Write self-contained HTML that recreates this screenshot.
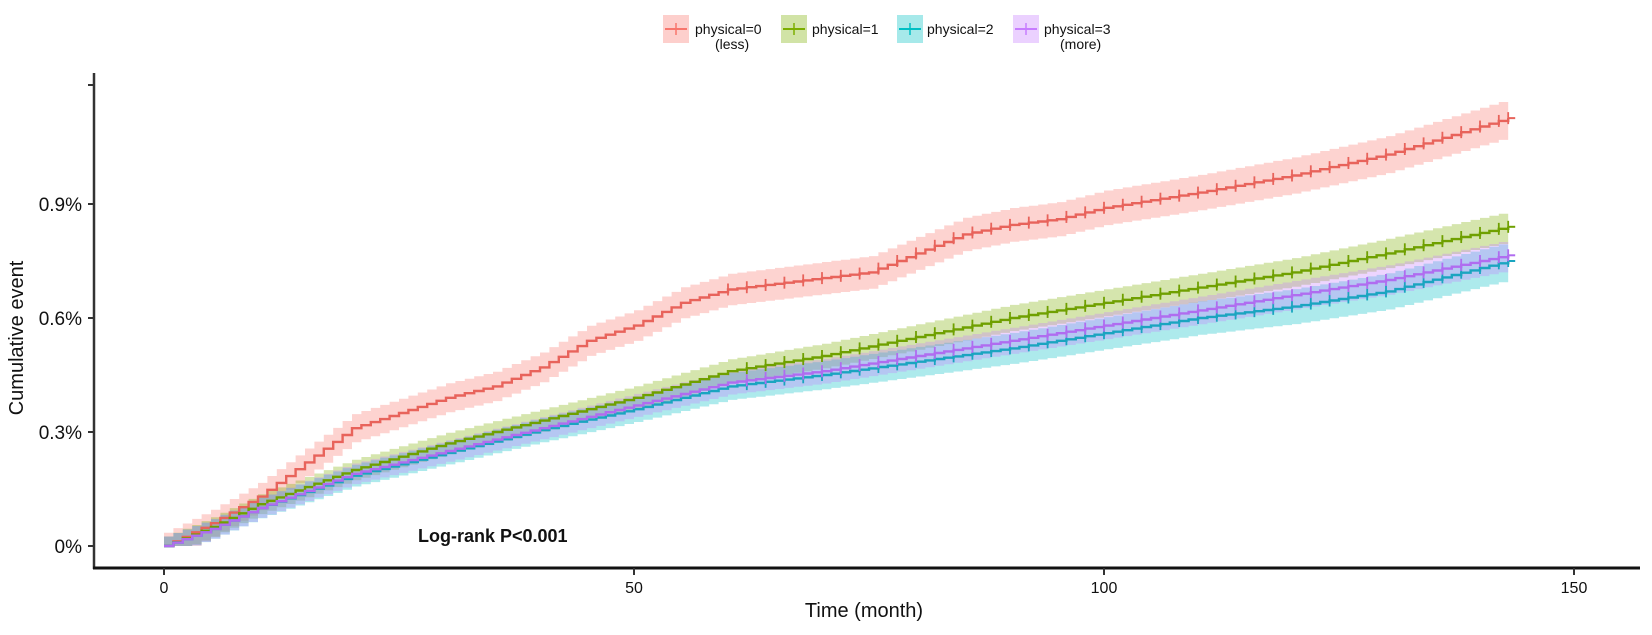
<!DOCTYPE html>
<html><head><meta charset="utf-8"><style>
html,body{margin:0;padding:0;background:#fff;width:1652px;height:635px;overflow:hidden}
svg{display:block;font-family:"Liberation Sans",Arial,sans-serif}
</style></head><body>
<svg id="s" width="1652" height="635" viewBox="0 0 1652 635" xmlns="http://www.w3.org/2000/svg">
<g id="bands"></g><g id="lines"></g>
<line x1="94" y1="73" x2="94" y2="569" stroke="#333" stroke-width="2.5"/>
<line x1="93" y1="568" x2="1640" y2="568" stroke="#111" stroke-width="3"/>
<g stroke="#333" stroke-width="2">
<line x1="88" y1="546" x2="94" y2="546"/><line x1="88" y1="432" x2="94" y2="432"/>
<line x1="88" y1="318" x2="94" y2="318"/><line x1="88" y1="204" x2="94" y2="204"/>
<line x1="88" y1="85" x2="94" y2="85"/>
<line x1="164" y1="568" x2="164" y2="575"/><line x1="634" y1="568" x2="634" y2="575"/>
<line x1="1104" y1="568" x2="1104" y2="575"/><line x1="1574" y1="568" x2="1574" y2="575"/>
</g>
<g font-size="19" fill="#111" text-anchor="end">
<text x="82" y="553">0%</text><text x="82" y="439">0.3%</text><text x="82" y="325">0.6%</text><text x="82" y="211">0.9%</text>
</g>
<g font-size="16" fill="#111" text-anchor="middle">
<text x="164" y="593">0</text><text x="634" y="593">50</text><text x="1104" y="593">100</text><text x="1574" y="593">150</text>
</g>
<text x="864" y="617" font-size="20" text-anchor="middle" fill="#111">Time (month)</text>
<text transform="translate(23,338) rotate(-90)" font-size="20" text-anchor="middle" fill="#111">Cumulative event</text>
<text x="418" y="542" font-size="18" font-weight="bold" fill="#111">Log-rank P&lt;0.001</text>
<g font-size="14" fill="#111">
<rect x="663" y="15" width="26" height="28" fill="#F8766D" opacity="0.35"/><line x1="665" y1="29" x2="687" y2="29" stroke="#F8766D" stroke-width="2"/><line x1="676" y1="23" x2="676" y2="35" stroke="#F8766D" stroke-width="1.5"/>
<text x="695" y="34">physical=0</text><text x="715" y="49">(less)</text>
<rect x="781" y="15" width="26" height="28" fill="#7CAE00" opacity="0.35"/><line x1="783" y1="29" x2="805" y2="29" stroke="#7CAE00" stroke-width="2"/><line x1="794" y1="23" x2="794" y2="35" stroke="#7CAE00" stroke-width="1.5"/>
<text x="812" y="34">physical=1</text>
<rect x="897" y="15" width="26" height="28" fill="#00BFC4" opacity="0.35"/><line x1="899" y1="29" x2="921" y2="29" stroke="#00BFC4" stroke-width="2"/><line x1="910" y1="23" x2="910" y2="35" stroke="#00BFC4" stroke-width="1.5"/>
<text x="927" y="34">physical=2</text>
<rect x="1013" y="15" width="26" height="28" fill="#C77CFF" opacity="0.35"/><line x1="1015" y1="29" x2="1037" y2="29" stroke="#C77CFF" stroke-width="2"/><line x1="1026" y1="23" x2="1026" y2="35" stroke="#C77CFF" stroke-width="1.5"/>
<text x="1044" y="34">physical=3</text><text x="1060" y="49">(more)</text>
</g>
</svg>
<script>
var X=function(m){return 164+m*9.4},Y=function(p){return 546-p*380};
var S=[
{c:"#F8766D",l:"#E8635B",w:0.035,we:0.05,cs:60,d:[[0,0],[5,0.06],[10,0.13],[15,0.22],[20,0.31],[25,0.35],[30,0.39],[35,0.42],[40,0.47],[45,0.54],[50,0.58],[55,0.64],[60,0.675],[65,0.69],[70,0.705],[75,0.72],[80,0.77],[85,0.82],[90,0.845],[95,0.86],[100,0.89],[110,0.93],[120,0.975],[130,1.03],[143,1.126]]},
{c:"#7CAE00",l:"#6FA000",w:0.025,we:0.04,cs:62,d:[[0,0],[5,0.05],[10,0.11],[20,0.20],[30,0.27],[40,0.33],[50,0.39],[60,0.46],[70,0.50],[80,0.55],[90,0.60],[100,0.64],[110,0.68],[120,0.72],[130,0.77],[143,0.84]]},
{c:"#00BFC4",l:"#1AA5C0",w:0.025,we:0.05,cs:62,d:[[0,0],[5,0.045],[10,0.10],[20,0.185],[30,0.245],[40,0.305],[50,0.36],[60,0.42],[70,0.45],[80,0.485],[90,0.52],[100,0.56],[110,0.60],[120,0.63],[130,0.67],[143,0.75]]},
{c:"#C77CFF",l:"#B06CF0",w:0.025,we:0.04,cs:62,d:[[0,0],[5,0.045],[10,0.10],[20,0.19],[30,0.25],[40,0.31],[50,0.37],[60,0.43],[70,0.46],[80,0.50],[90,0.54],[100,0.58],[110,0.62],[120,0.66],[130,0.70],[143,0.765]]}];
function interp(d,m){for(var i=1;i<d.length;i++){if(m<=d[i][0]){var a=d[i-1],b=d[i];return a[1]+(b[1]-a[1])*(m-a[0])/(b[0]-a[0]);}}return d[d.length-1][1];}
var B="",L="";
S.forEach(function(s){
 var st=1.0,pts=[];for(var m=0;m<=143;m+=st)pts.push([m,interp(s.d,m)]);pts.push([143,s.d[s.d.length-1][1]]);
 var up="",lo="",ln="";
 pts.forEach(function(p,i){var w=s.w+(s.we-s.w)*p[0]/143;var x=X(p[0]).toFixed(1);
  if(i==0){ln="M"+x+","+Y(p[1]).toFixed(1);up="M"+x+","+Y(p[1]+w).toFixed(1);}
  else{ln+="H"+x+"V"+Y(p[1]).toFixed(1);up+="H"+x+"V"+Y(p[1]+w).toFixed(1);}
 });
 var rev=pts.slice().reverse();
 rev.forEach(function(p,i){var w=s.w+(s.we-s.w)*p[0]/143;var x=X(p[0]).toFixed(1),y=Y(Math.max(0,p[1]-w)).toFixed(1);
  lo+="L"+x+","+y;if(i<rev.length-1){var q=rev[i+1];var w2=s.w+(s.we-s.w)*q[0]/143;lo+="V"+Y(Math.max(0,q[1]-w2)).toFixed(1);}
 });
 B+='<path d="'+up+"H"+X(143)+lo+'Z" fill="'+s.c+'" opacity="0.32"/>';
 L+='<path d="'+ln+'" fill="none" stroke="'+s.l+'" stroke-width="2.4"/>';
 for(var m=s.cs;m<=143;m+=2.0){var y=Y(interp(s.d,m));L+='<line x1="'+X(m)+'" y1="'+(y-6)+'" x2="'+X(m)+'" y2="'+(y+6)+'" stroke="'+s.l+'" stroke-width="1.8"/>';}
 var ye=Y(s.d[s.d.length-1][1]);L+='<line x1="'+X(143)+'" y1="'+(ye-6)+'" x2="'+X(143)+'" y2="'+(ye+6)+'" stroke="'+s.l+'" stroke-width="1.8"/><line x1="'+X(143)+'" y1="'+ye+'" x2="'+(X(143)+7)+'" y2="'+ye+'" stroke="'+s.l+'" stroke-width="2"/>';
});
document.getElementById("bands").innerHTML=B;document.getElementById("lines").innerHTML=L;
</script>
</body></html>
